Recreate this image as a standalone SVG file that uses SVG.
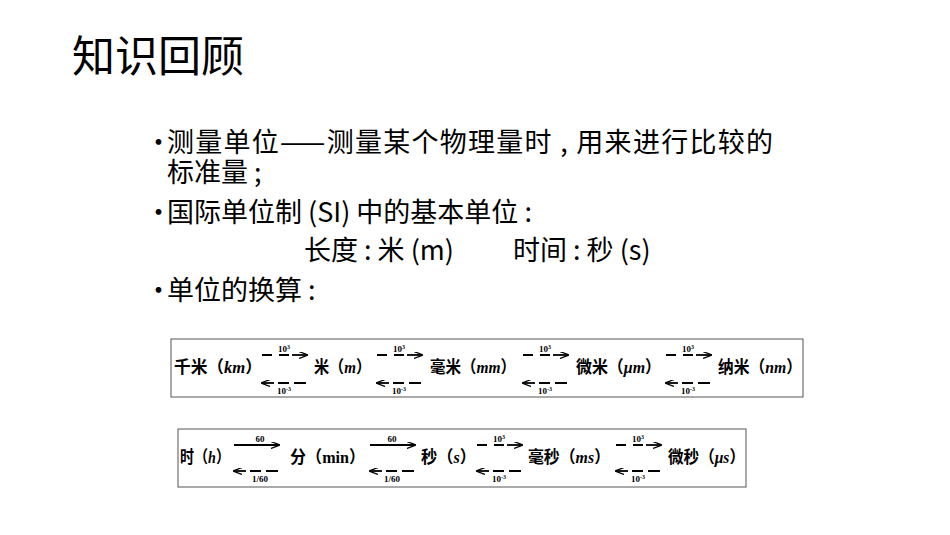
<svg xmlns="http://www.w3.org/2000/svg" width="950" height="535" viewBox="0 0 950 535">
<defs>
<style>
.t{font-family:"Noto Sans CJK SC","Noto Sans",sans-serif;fill:#000}
.b{font-size:27px}
.f{font-family:"Liberation Serif","Noto Sans CJK SC",serif;font-size:17px;font-weight:bold;fill:#000}
.s{font-family:"Liberation Serif",serif;font-size:9px;font-weight:bold;text-anchor:middle;fill:#000}
.l{stroke:#000;stroke-width:1.8;fill:none}
.box{fill:#fff;stroke:#555;stroke-width:1}
</style>
<marker id="ar" markerWidth="9" markerHeight="7" refX="8" refY="3.5" orient="auto" markerUnits="userSpaceOnUse"><path d="M0,0 L9,3.5 L0,7" fill="none" stroke="#000" stroke-width="1.2"/></marker>
</defs>
<rect width="950" height="535" fill="#fff"/>
<text class="t" x="72" y="72" font-size="43">知识回顾</text>
<g class="t b">
<text x="145" y="152">•</text><text x="167" y="152" textLength="606">测量单位——测量某个物理量时 , 用来进行比较的</text>
<text x="167" y="182">标准量 ;</text>
<text x="145" y="222">•</text><text x="167" y="222">国际单位制 (SI) 中的基本单位 :</text>
<text x="304" y="260">长度 : 米 (m)</text><text x="513" y="260">时间 : 秒 (s)</text>
<text x="145" y="300">•</text><text x="167" y="300">单位的换算 :</text>
</g>
<g id="box1">
<rect class="box" x="171" y="339" width="632" height="58"/>
<text class="f" x="174" y="373" textLength="88" lengthAdjust="spacingAndGlyphs">千米（<tspan font-style="italic">km</tspan>）</text>
<text class="f" x="314" y="373" textLength="57" lengthAdjust="spacingAndGlyphs">米（<tspan font-style="italic">m</tspan>）</text>
<text class="f" x="430" y="373" textLength="86" lengthAdjust="spacingAndGlyphs">毫米（<tspan font-style="italic">mm</tspan>）</text>
<text class="f" x="576" y="373" textLength="85" lengthAdjust="spacingAndGlyphs">微米（<tspan font-style="italic">μm</tspan>）</text>
<text class="f" x="718" y="373" textLength="84" lengthAdjust="spacingAndGlyphs">纳米（<tspan font-style="italic">nm</tspan>）</text>
</g>
<g id="box2">
<rect class="box" x="178" y="429" width="568" height="58"/>
<text class="f" x="180" y="463" textLength="50" lengthAdjust="spacingAndGlyphs">时（<tspan font-style="italic">h</tspan>）</text>
<text class="f" x="290" y="463" textLength="75" lengthAdjust="spacingAndGlyphs">分（min）</text>
<text class="f" x="421" y="463" textLength="55" lengthAdjust="spacingAndGlyphs">秒（<tspan font-style="italic">s</tspan>）</text>
<text class="f" x="528" y="463" textLength="82" lengthAdjust="spacingAndGlyphs">毫秒（<tspan font-style="italic">ms</tspan>）</text>
<text class="f" x="668" y="463" textLength="77" lengthAdjust="spacingAndGlyphs">微秒（<tspan font-style="italic">μs</tspan>）</text>
</g>
<g id="connectors">
<g transform="translate(262,0)">
<path class="l" d="M0,355h10 M17,355h10"/><path class="l" d="M30,355h15" marker-end="url(#ar)"/><text class="s" x="22" y="352">10<tspan dy="-3" font-size="6">3</tspan></text>
<path class="l" d="M12,383h-12" marker-end="url(#ar)"/><path class="l" d="M16,383h11 M32,383h12"/><text class="s" x="22" y="394">10<tspan dy="-3" font-size="6">-3</tspan></text>
</g>
<g transform="translate(377,0)">
<path class="l" d="M0,355h10 M17,355h10"/><path class="l" d="M30,355h15" marker-end="url(#ar)"/><text class="s" x="22" y="352">10<tspan dy="-3" font-size="6">3</tspan></text>
<path class="l" d="M12,383h-12" marker-end="url(#ar)"/><path class="l" d="M16,383h11 M32,383h12"/><text class="s" x="22" y="394">10<tspan dy="-3" font-size="6">-3</tspan></text>
</g>
<g transform="translate(523,0)">
<path class="l" d="M0,355h10 M17,355h10"/><path class="l" d="M30,355h15" marker-end="url(#ar)"/><text class="s" x="22" y="352">10<tspan dy="-3" font-size="6">3</tspan></text>
<path class="l" d="M12,383h-12" marker-end="url(#ar)"/><path class="l" d="M16,383h11 M32,383h12"/><text class="s" x="22" y="394">10<tspan dy="-3" font-size="6">-3</tspan></text>
</g>
<g transform="translate(666,0)">
<path class="l" d="M0,355h10 M17,355h10"/><path class="l" d="M30,355h15" marker-end="url(#ar)"/><text class="s" x="22" y="352">10<tspan dy="-3" font-size="6">3</tspan></text>
<path class="l" d="M12,383h-12" marker-end="url(#ar)"/><path class="l" d="M16,383h11 M32,383h12"/><text class="s" x="22" y="394">10<tspan dy="-3" font-size="6">-3</tspan></text>
</g>
<g transform="translate(234,0)">
<path class="l" d="M0,445h45" marker-end="url(#ar)"/><text class="s" x="26" y="442">60</text>
<path class="l" d="M12,471h-12" marker-end="url(#ar)"/><path class="l" d="M16,471h11 M32,471h12"/><text class="s" x="26" y="482">1/60</text>
</g>
<g transform="translate(370,0)">
<path class="l" d="M0,445h45" marker-end="url(#ar)"/><text class="s" x="22" y="442">60</text>
<path class="l" d="M12,471h-12" marker-end="url(#ar)"/><path class="l" d="M16,471h11 M32,471h12"/><text class="s" x="22" y="482">1/60</text>
</g>
<g transform="translate(477,0)">
<path class="l" d="M0,445h10 M17,445h10"/><path class="l" d="M30,445h15" marker-end="url(#ar)"/><text class="s" x="22" y="442">10<tspan dy="-3" font-size="6">3</tspan></text>
<path class="l" d="M12,471h-12" marker-end="url(#ar)"/><path class="l" d="M16,471h11 M32,471h12"/><text class="s" x="22" y="482">10<tspan dy="-3" font-size="6">-3</tspan></text>
</g>
<g transform="translate(616,0)">
<path class="l" d="M0,445h10 M17,445h10"/><path class="l" d="M30,445h15" marker-end="url(#ar)"/><text class="s" x="22" y="442">10<tspan dy="-3" font-size="6">3</tspan></text>
<path class="l" d="M12,471h-12" marker-end="url(#ar)"/><path class="l" d="M16,471h11 M32,471h12"/><text class="s" x="22" y="482">10<tspan dy="-3" font-size="6">-3</tspan></text>
</g>
</g>
</svg>
